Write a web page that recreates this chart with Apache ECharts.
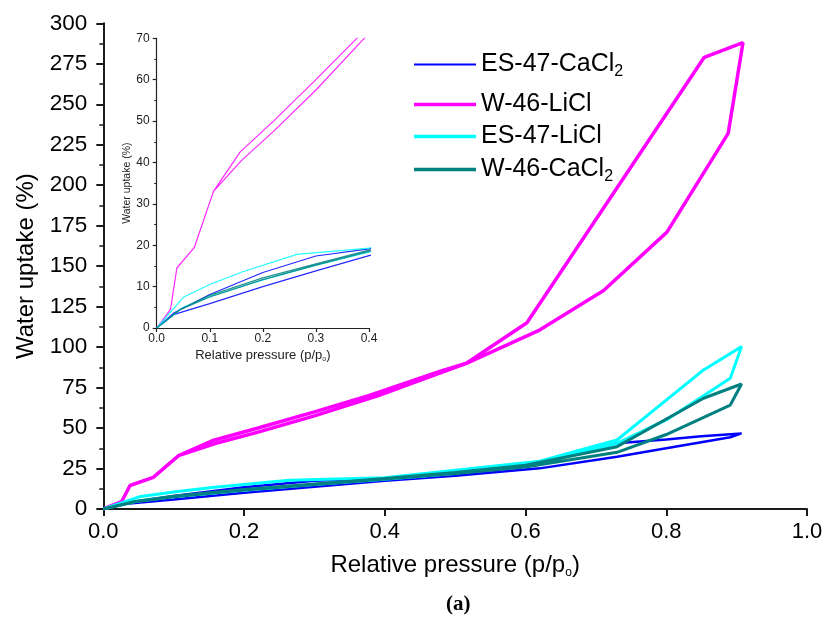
<!DOCTYPE html>
<html><head><meta charset="utf-8">
<script src="https://cdn.jsdelivr.net/npm/echarts@6/dist/echarts.min.js"></script>
<style>html,body{margin:0;padding:0;background:#fff}#c{width:827px;height:622px}</style>
</head><body><div id="c"></div><script>
const seriesNames = ['ES-47-CaCl2', 'W-46-LiCl', 'ES-47-LiCl', 'W-46-CaCl2'];
const seriesColors = ['#0000ff', '#ff00ff', '#00ffff', '#008080'];

// [relative pressure, water uptake %] — adsorption branch then desorption branch
const es47CaCl2 = [[0,0],[0.033,3.3],[0.1,5.9],[0.2,10],[0.3,13.8],[0.4,17.5],[0.5,20.5],[0.564,23],[0.62,25.1],[0.73,32.3],[0.8,37.5],[0.891,44.3],[0.907,46.7],
  [0.85,45],[0.8,43],[0.73,40.6],[0.62,28.2],[0.5,22.5],[0.4,19.1],[0.3,17.4],[0.2,13.4],[0.1,8.1],[0.033,3.7],[0,0]];
const w46LiCl = [[0,0],[0.026,4.5],[0.038,14.5],[0.071,19.5],[0.107,33],[0.16,40.5],[0.22,47.5],[0.3,57.5],[0.391,70],[0.478,84],[0.516,90],[0.62,110.5],[0.711,135],[0.801,171],[0.888,232],[0.909,288],
  [0.854,279],[0.602,115],[0.516,90],[0.478,85],[0.377,70],[0.3,60],[0.22,50],[0.157,42.5],[0.107,33],[0.071,19.5],[0.038,14.5],[0.026,4.5],[0,0]];
const es47LiCl = [[0,0],[0.05,5],[0.1,7.6],[0.2,11.6],[0.3,15.2],[0.4,18.3],[0.5,22],[0.6,27],[0.73,40.5],[0.8,55],[0.891,80.7],[0.907,100.3],
  [0.853,85.9],[0.73,42.6],[0.62,29.5],[0.5,24],[0.4,19.3],[0.264,17.8],[0.158,13.4],[0.1,10.5],[0.051,7.5],[0,0]];
const w46CaCl2 = [[0,0],[0.045,4.5],[0.1,7.5],[0.2,11.7],[0.3,15.2],[0.4,18.5],[0.5,22],[0.6,26],[0.73,35],[0.8,46],[0.891,64.2],[0.907,77.2],
  [0.853,68.4],[0.73,38.5],[0.6,27],[0.5,22.5],[0.4,18.8],[0.3,15.5],[0.2,12.1],[0.1,7.9],[0.045,4.6],[0,0]];
const seriesData = [es47CaCl2, w46LiCl, es47LiCl, w46CaCl2];
const mainWidths = [2.5, 3.5, 3, 3];
const legendTops = [47, 87, 119, 152];
const legendIconH = [2, 3.5, 3.5, 3.5];

const FONT = 'Liberation Sans';
const legendRich = {
  a: {fontFamily: FONT, fontSize: 25, lineHeight: 30, color: '#000'},
  s: {fontFamily: FONT, fontSize: 16, lineHeight: 6, verticalAlign: 'bottom', color: '#000'}
};
function legendFmt(n) {
  return n.endsWith('CaCl2') ? '{a|' + n.slice(0, -1) + '}{s|2}' : '{a|' + n + '}';
}

const series = [];
seriesNames.forEach((n, i) => {
  series.push({name: n, type: 'line', xAxisIndex: 0, yAxisIndex: 0, data: seriesData[i], symbol: 'none',
    lineStyle: {color: seriesColors[i], width: mainWidths[i]}, itemStyle: {color: seriesColors[i]}, z: 3});
});
seriesNames.forEach((n, i) => {
  series.push({name: n, type: 'line', xAxisIndex: 1, yAxisIndex: 1, data: seriesData[i], symbol: 'none', clip: true,
    lineStyle: {color: seriesColors[i], width: 1.2, opacity: 0.85}, itemStyle: {color: seriesColors[i]}, z: 2});
});

const chart = echarts.init(document.getElementById('c'), null, {renderer: 'canvas'});
chart.setOption({
  animation: false,
  backgroundColor: '#fff',
  title: {text: '{n|(}{b|a}{n|)}', left: 441, top: 589,
    textStyle: {rich: {n: {fontFamily: 'Liberation Serif', fontSize: 21, color: '#000'}, b: {fontFamily: 'Liberation Serif', fontSize: 21, fontWeight: 'bold', color: '#000'}}}},
  legend: seriesNames.map((n, i) => ({
    data: [n], left: 409, top: legendTops[i], orient: 'vertical', icon: 'rect', itemWidth: 62, itemHeight: legendIconH[i], itemGap: 0,
    formatter: legendFmt, textStyle: {rich: legendRich}, selectedMode: false
  })),
  grid: [
    {left: 103.3, top: 23.3, width: 703.7, height: 485.7},
    {left: 156.7, top: 38.3, width: 212.3, height: 289.7}
  ],
  xAxis: [
    {type: 'value', gridIndex: 0, min: 0, max: 1, interval: 0.2,
      axisLine: {lineStyle: {color: '#1a1a1a', width: 2}}, axisTick: {inside: false, length: 7, lineStyle: {width: 2, color: '#1a1a1a'}},
      axisLabel: {fontFamily: FONT, fontSize: 22, color: '#000', margin: 12, formatter: v => v.toFixed(1)},
      splitLine: {show: false},
      name: '{a|Relative pressure (p/p}{s|o}{a|)}', nameLocation: 'middle', nameGap: 42,
      nameTextStyle: {rich: {a: {fontFamily: FONT, fontSize: 24, lineHeight: 28, color: '#000'}, s: {fontFamily: FONT, fontSize: 12, lineHeight: 10, verticalAlign: 'bottom', color: '#000'}}}},
    {type: 'value', gridIndex: 1, min: 0, max: 0.4, interval: 0.1,
      axisLine: {lineStyle: {color: '#222', width: 1.2}}, axisTick: {length: 4, lineStyle: {width: 1.2, color: '#222'}},
      axisLabel: {fontFamily: FONT, fontSize: 12, color: '#222', margin: 5, formatter: v => v.toFixed(1)},
      splitLine: {show: false},
      name: '{a|Relative pressure (p/p}{s|o}{a|)}', nameLocation: 'middle', nameGap: 19,
      nameTextStyle: {rich: {a: {fontFamily: FONT, fontSize: 13, lineHeight: 16, color: '#222'}, s: {fontFamily: FONT, fontSize: 7, lineHeight: 6, verticalAlign: 'bottom', color: '#222'}}}}
  ],
  yAxis: [
    {type: 'value', gridIndex: 0, min: 0, max: 300, interval: 25,
      axisLine: {show: true, lineStyle: {color: '#1a1a1a', width: 2}}, axisTick: {show: true, length: 7, lineStyle: {width: 2, color: '#1a1a1a'}},
      minorTick: {show: true, splitNumber: 2, length: 4, lineStyle: {width: 1.5, color: '#1a1a1a'}},
      axisLabel: {fontFamily: FONT, fontSize: 22.5, color: '#000', margin: 16},
      splitLine: {show: false},
      name: 'Water uptake (%)', nameLocation: 'middle', nameGap: 60,
      nameTextStyle: {fontFamily: FONT, fontSize: 24, color: '#000'}},
    {type: 'value', gridIndex: 1, min: 0, max: 70, interval: 10,
      axisLine: {show: true, lineStyle: {color: '#222', width: 1.2}}, axisTick: {show: true, length: 4, lineStyle: {width: 1.2, color: '#222'}},
      minorTick: {show: true, splitNumber: 2, length: 2.5, lineStyle: {width: 1, color: '#222'}},
      axisLabel: {fontFamily: FONT, fontSize: 12, color: '#222', margin: 7},
      splitLine: {show: false},
      name: 'Water uptake (%)', nameLocation: 'middle', nameGap: 24,
      nameTextStyle: {fontFamily: FONT, fontSize: 10.5, color: '#222'}}
  ],
  series: series
});
</script></body></html>
